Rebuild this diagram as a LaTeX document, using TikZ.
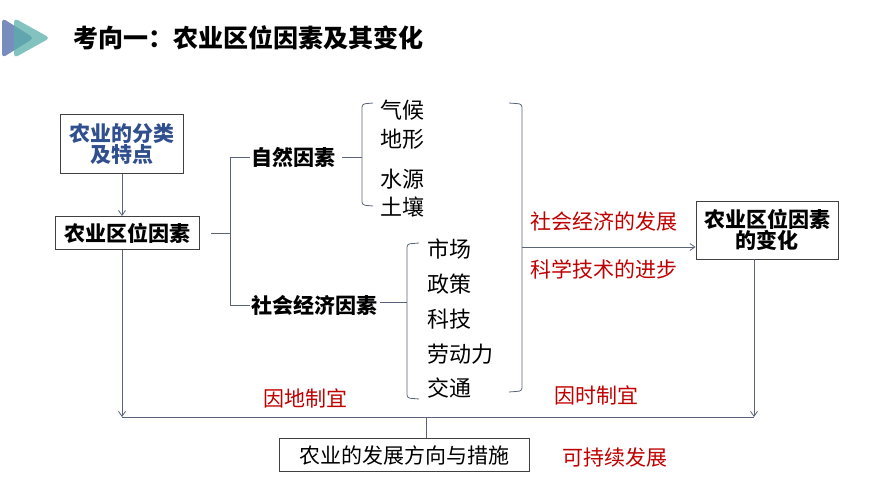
\documentclass[tikz,border=0pt]{standalone}
\usepackage{fontspec}
\setmainfont{Noto Sans CJK SC}
\usetikzlibrary{arrows.meta}
\definecolor{myred}{HTML}{C00000}
\definecolor{myblue}{HTML}{2F4F8F}
\definecolor{lc}{HTML}{5A6478}
\begin{document}
\begin{tikzpicture}[x=1pt,y=-1pt,
  box/.style={draw=black!75,line width=0.9pt,inner sep=2pt,align=center,font=\fontsize{21}{23}\selectfont\bfseries},
  lab/.style={font=\fontsize{21}{23}\selectfont\bfseries,inner sep=1pt},
  itm/.style={font=\fontsize{22}{24}\selectfont,anchor=west,inner sep=0pt},
  red/.style={font=\fontsize{21}{23}\selectfont,text=myred},
  ln/.style={draw=lc,line width=0.8pt},
  arr/.style={ln,-{Straight Barb[length=5pt,width=7pt]}}]
\useasboundingbox (0,0) rectangle (870,489);
% icon
\fill[color={rgb,255:red,120;green,140;blue,190},rounded corners=4pt] (2,18)--(34,38)--(2,58)--cycle;
\fill[color={rgb,255:red,90;green,175;blue,170},opacity=0.75,rounded corners=4pt] (14,18)--(50,38)--(14,58)--cycle;
\node[anchor=west,font=\fontsize{25}{28}\selectfont\bfseries] (title) at (70,38) {考向一：农业区位因素及其变化};
% boxes
\node[box,text=myblue,minimum width=123pt,minimum height=59pt] (b1) at (122,144) {农业的分类\\[-2pt]及特点};
\node[box,minimum width=144pt,minimum height=33pt] (b2) at (127,233) {农业区位因素};
\node[box,minimum width=142pt,minimum height=58pt] (b3) at (767,230) {农业区位因素\\[-2pt]的变化};
\node[box,font=\fontsize{21}{23}\selectfont,minimum width=250pt,minimum height=33pt] (b4) at (404,455) {农业的发展方向与措施};
\draw[arr] (b1.south) -- (b1.south |- b2.north);
% main bracket
\node[lab,anchor=west] (nat) at (250,157) {自然因素};
\node[lab,anchor=west] (soc) at (250,305) {社会经济因素};
\coordinate (j) at (230,233);
\draw[ln] (b2.east) ++(12,0) -- (j);
\draw[ln] (nat.west) -- (230,157) -- (230,305) -- (soc.west);
% natural brace
\node[itm] (n1) at (380,110) {气候};
\node[itm] (n2) at (380,139) {地形};
\node[itm] (n3) at (380,179) {水源};
\node[itm] (n4) at (380,207) {土壤};
\draw[ln] (nat.east) ++(6,0) -- (362,157);
\draw[ln,rounded corners=3pt] (373,103) -- (362,104) -- (362,205) -- (373,206);
% social brace
\node[itm] (s1) at (427,249) {市场};
\node[itm] (s2) at (427,284) {政策};
\node[itm] (s3) at (427,319) {科技};
\node[itm] (s4) at (427,354) {劳动力};
\node[itm] (s5) at (427,388) {交通};
\draw[ln] (soc.east) ++(2,-3) -- (407,302);
\draw[ln,rounded corners=3pt] (419,243) -- (407,244) -- (407,398) -- (419,399);
% right bracket
\draw[ln,rounded corners=3pt] (509,103) -- (522,104) -- (522,391) -- (509,392);
\coordinate (r) at (522,247);
\draw[arr] (r) -- (b3.west |- r);
\node[red,anchor=west] (t1) at (527,222) {社会经济的发展};
\node[red,anchor=west] (t2) at (527,269) {科学技术的进步};
% bottom
\coordinate (bl) at (122,417);
\coordinate (br) at (754,417);
\coordinate (bm) at (426,417);
\draw[arr] (b2.south -| bl) -- (bl);
\draw[arr] (b3.south -| br) -- (br);
\draw[ln] (bl) -- (br);
\draw[ln] (bm) -- (b4.north -| bm);
\node[red] (y1) at (305,398) {因地制宜};
\node[red] (y2) at (596,395) {因时制宜};
\node[red] (y3) at (615,458) {可持续发展};
\end{tikzpicture}
\end{document}
